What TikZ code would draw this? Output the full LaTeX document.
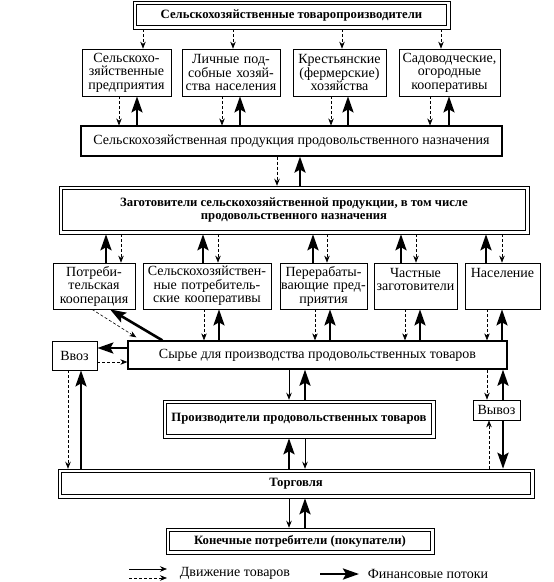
\documentclass[tikz,border=0pt]{standalone}
\usepackage{fontspec}
\setmainfont{Liberation Serif}
\usetikzlibrary{arrows.meta}

\tikzset{
  unit/.style={draw, line width=0.7pt, align=center, inner sep=0.5pt},
  main/.style={unit, line width=1.3pt},
  twin/.style={draw, line width=0.5pt, align=center, inner sep=1pt,
    font=\fontsize{12.7}{13.5}\selectfont\bfseries,
    path picture={\draw[line width=1.4pt]
      ([shift={(3.5pt,3.5pt)}]path picture bounding box.south west) rectangle
      ([shift={(-3.5pt,-3.5pt)}]path picture bounding box.north east);}},
  goods/.style={-{Stealth[length=7pt,width=5.5pt]}, line width=0.6pt},
  goodsd/.style={goods, dash pattern=on 3pt off 2pt},
  money/.style={-{Stealth[length=16pt,width=11pt,inset=3pt]}, line width=2.6pt},
}

\begin{document}
\fontsize{14}{13.5}\selectfont
\begin{tikzpicture}[x=1pt,y=-1pt]
  \useasboundingbox (0,0) rectangle (554,582);
  % producers
  \node[twin, minimum width=317, minimum height=28] (top) at (291.5,15) {Сельскохозяйственные товаропроизводители};
  \node[unit, text width=88, minimum height=47] (s1) at (126.5,72.5) {Сельскохо-\\зяйственные\\предприятия};
  \node[unit, text width=97, minimum height=47] (s2) at (231,72.5) {Личные под-\\собные хозяй-\\ства населения};
  \node[unit, text width=92, minimum height=47] (s3) at (339.5,72.5) {Крестьянские\\(фермерские)\\хозяйства};
  \node[unit, text width=100, minimum height=47] (s4) at (449.5,72.5) {Садоводческие,\\огородные\\кооперативы};
  \node[main, minimum width=421, minimum height=30, line width=1.1pt] (prod) at (291.5,141) {Сельскохозяйственная продукция продовольственного назначения};
  \node[twin, minimum width=470, minimum height=48] (zag) at (294,210) {Заготовители сельскохозяйственной продукции, в том числе\\продовольственного назначения};
  % buyers
  \node[unit, text width=81, minimum height=46] (r1) at (94,286) {Потреби-\\тельская\\кооперация};
  \node[unit, text width=127, minimum height=46] (r2) at (207,286) {Сельскохозяйствен-\\ные потребитель-\\ские кооперативы};
  \node[unit, text width=86, minimum height=46] (r3) at (323.5,286) {Перерабаты-\\вающие пред-\\приятия};
  \node[unit, text width=82, minimum height=46] (r4) at (415.5,286) {Частные\\заготовители\\\phantom{X}};
  \node[unit, text width=74, minimum height=46] (r5) at (502.5,286) {Население\\\phantom{X}\\\phantom{X}};
  % raw materials and trade
  \node[main, minimum width=379, minimum height=28] (syr) at (317.5,355) {Сырье для производства продовольственных товаров};
  \node[unit, minimum width=45, minimum height=29] (vvoz) at (74.5,355.5) {Ввоз};
  \node[twin, minimum width=272, minimum height=38] (pr) at (299,419) {Производители продовольственных товаров};
  \node[unit, minimum width=47, minimum height=20] (vyvoz) at (496.5,410) {Вывоз};
  \node[twin, minimum width=476, minimum height=29] (trade) at (296,483.5) {Торговля};
  \node[twin, minimum width=268, minimum height=26] (cons) at (300,541) {Конечные потребители (покупатели)};

  % top -> farms
  \foreach \x in {143,233,342,441}
    \draw[goodsd] (\x,0 |- top.south) -- (\x,0 |- s1.north);
  % farms <-> products
  \foreach \x in {119,222,331,430}
    \draw[goodsd] (\x,0 |- s1.south) -- (\x,0 |- prod.north);
  \foreach \x in {137,240,348,449}
    \draw[money] (\x,0 |- prod.north) -- (\x,0 |- s1.south);
  \draw[goodsd] (277,0 |- prod.south) -- (277,0 |- zag.north);
  \draw[money] (300,0 |- zag.north) -- (300,0 |- prod.south);
  % purchasers
  \foreach \x in {106,203,313,401,486}
    \draw[money] (\x,0 |- r1.north) -- (\x,0 |- zag.south);
  \foreach \x in {121,218,327,416,502}
    \draw[goodsd] (\x,0 |- zag.south) -- (\x,0 |- r1.north);
  \foreach \x in {204,315,405,487}
    \draw[goodsd] (\x,0 |- r2.south) -- (\x,0 |- syr.north);
  \foreach \x in {219,330,420,502}
    \draw[money] (\x,0 |- syr.north) -- (\x,0 |- r2.south);
  \draw[goodsd] ([xshift=-2pt]r1.south) -- ([xshift=9pt,yshift=3pt]syr.north west);
  \draw[money] ([xshift=35pt]syr.north west) -- ([xshift=16pt]r1.south);
  % import / export
  \draw[money] (syr.west |- 0,348) -- (vvoz.east |- 0,348);
  \draw[goodsd] (vvoz.east |- 0,362) -- (syr.west |- 0,362);
  \draw[goodsd] (68,0 |- vvoz.south) -- (68,0 |- trade.north);
  \draw[money] (81,0 |- trade.north) -- (81,0 |- vvoz.south);
  \draw[goodsd] (487,0 |- syr.south) -- (487,0 |- vyvoz.north);
  \draw[money] (503,0 |- vyvoz.north) -- (503,0 |- syr.south);
  \draw[goodsd] (489,0 |- trade.north) -- (489,0 |- vyvoz.south);
  \draw[money] (503,0 |- vyvoz.south) -- (503,0 |- trade.north);
  % food chain
  \draw[goods] (289,0 |- syr.south) -- (289,0 |- pr.north);
  \draw[money] (305,0 |- pr.north) -- (305,0 |- syr.south);
  \draw[money] (289,0 |- trade.north) -- (289,0 |- pr.south);
  \draw[goods] (305,0 |- pr.south) -- (305,0 |- trade.north);
  \draw[goods] (289,0 |- trade.south) -- (289,0 |- cons.north);
  \draw[money] (305,0 |- cons.north) -- (305,0 |- trade.south);

  % legend
  \coordinate (g1) at (129,569);
  \coordinate (g2) at (167,569);
  \coordinate (g3) at (129,578);
  \coordinate (g4) at (167,578);
  \coordinate (f1) at (320,574);
  \coordinate (f2) at (359,574);
  \draw[goods] (g1) -- (g2);
  \draw[goodsd] (g3) -- (g4);
  \draw[money] (f1) -- (f2);
  \node[anchor=west] (lgA) at (175,573) {Движение товаров};
  \node[anchor=west] (lgB) at (363,574) {Финансовые потоки};
\end{tikzpicture}
\end{document}
